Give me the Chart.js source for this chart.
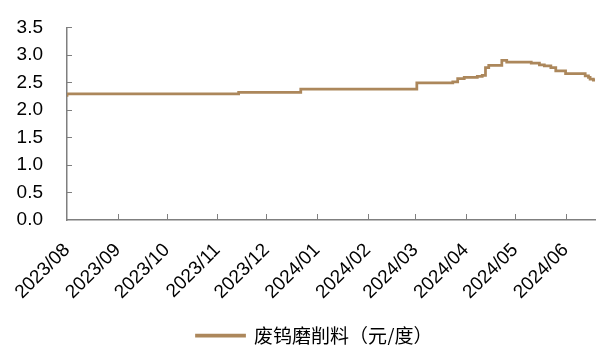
<!DOCTYPE html>
<html>
<head>
<meta charset="utf-8">
<script src="https://cdn.jsdelivr.net/npm/chart.js@4"></script>
<style>
  html, body { margin: 0; padding: 0; background: #fff; }
  #wrap { width: 599px; height: 345px; }
</style>
</head>
<body>
<div id="wrap"><canvas id="priceChart" width="599" height="345"></canvas></div>
<script>
// 价格变动点（日期 / 价格）
const changeDates = [
  '2023-08-01', '2023-11-14', '2023-12-22', '2024-03-02', '2024-03-24',
  '2024-03-27', '2024-03-31', '2024-04-08', '2024-04-11', '2024-04-13',
  '2024-04-15', '2024-04-23', '2024-04-26', '2024-05-11', '2024-05-16',
  '2024-05-19', '2024-05-23', '2024-05-26', '2024-06-01', '2024-06-13',
  '2024-06-15', '2024-06-16', '2024-06-18', '2024-06-19'
];
const priceValues = [
  2.24, 2.29, 2.32, 2.38, 2.49,
  2.51, 2.57, 2.59, 2.61, 2.63,
  2.77, 2.81, 2.90, 2.87, 2.85,
  2.82, 2.80, 2.77, 2.71, 2.66,
  2.62, 2.59, 2.56, 2.54
];
// 横轴月份刻度
const monthStarts = [
  '2023-08-01', '2023-09-01', '2023-10-01', '2023-11-01', '2023-12-01', '2024-01-01',
  '2024-02-01', '2024-03-01', '2024-04-01', '2024-05-01', '2024-06-01'
];
const monthLabels = [
  '2023/08', '2023/09', '2023/10', '2023/11', '2023/12', '2024/01',
  '2024/02', '2024/03', '2024/04', '2024/05', '2024/06'
];
const yTicks = [0, 0.5, 1.0, 1.5, 2.0, 2.5, 3.0, 3.5];
const seriesName = '废钨磨削料（元/度）';

const startDate = changeDates[0];
const endDate = '2024-06-19';

function dayIndex(s) {
  const p = s.split('-').map(Number);
  const b = startDate.split('-').map(Number);
  return Math.round((Date.UTC(p[0], p[1] - 1, p[2]) - Date.UTC(b[0], b[1] - 1, b[2])) / 86400000);
}

const points = changeDates.map((d, i) => ({ x: dayIndex(d), y: priceValues[i] }));
const tickDays = monthStarts.map(dayIndex);

const lineColor = '#AC875B';
const axisColor = '#7f7f7f';

// 刻度线朝内
const innerTicks = {
  id: 'innerTicks',
  afterDatasetsDraw(chart) {
    const { ctx, chartArea, scales } = chart;
    ctx.save();
    ctx.strokeStyle = axisColor;
    ctx.lineWidth = 1;
    tickDays.forEach(d => {
      if (d === 0) return;
      const x = Math.round(scales.x.getPixelForValue(d)) + 0.5;
      ctx.beginPath();
      ctx.moveTo(x, chartArea.bottom);
      ctx.lineTo(x, chartArea.bottom - 6);
      ctx.stroke();
    });
    yTicks.forEach(v => {
      if (v === 0) return;
      const y = Math.round(scales.y.getPixelForValue(v)) + 0.5;
      ctx.beginPath();
      ctx.moveTo(chartArea.left, y);
      ctx.lineTo(chartArea.left + 5, y);
      ctx.stroke();
    });
    ctx.restore();
  }
};

// 图例位置微调
const legendShift = {
  id: 'legendShift',
  afterLayout(chart) {
    const lg = chart.legend;
    if (!lg) return;
    lg.left += 17; lg.right += 17;
    lg.top += 10; lg.bottom += 10;
  }
};

new Chart(document.getElementById('priceChart').getContext('2d'), {
  type: 'line',
  data: {
    datasets: [{
      label: seriesName,
      data: points,
      borderColor: lineColor,
      backgroundColor: lineColor,
      borderWidth: 2.75,
      pointRadius: 0,
      stepped: 'after',
      fill: false
    }]
  },
  options: {
    responsive: false,
    animation: false,
    layout: { padding: { left: 0, right: 4, top: 14, bottom: 0 } },
    plugins: {
      tooltip: { enabled: false },
      legend: {
        position: 'bottom',
        labels: {
          boxWidth: 48,
          boxHeight: 1,
          padding: 2,
          color: '#000',
          font: { family: '"Noto Sans CJK SC", sans-serif', size: 19 }
        }
      }
    },
    scales: {
      x: {
        type: 'linear',
        min: 0,
        max: dayIndex(endDate),
        grid: { display: false },
        border: { color: axisColor, width: 1.5 },
        afterBuildTicks: scale => { scale.ticks = tickDays.map(v => ({ value: v })); },
        afterFit: scale => { scale.height = 94; },
        ticks: {
          autoSkip: false,
          minRotation: 45,
          maxRotation: 45,
          padding: 11,
          color: '#000',
          font: { family: '"Liberation Sans", Arial, sans-serif', size: 19 },
          callback: v => monthLabels[tickDays.indexOf(v)]
        }
      },
      y: {
        min: 0,
        max: 3.5,
        grid: { display: false },
        border: { color: axisColor, width: 1.5 },
        afterBuildTicks: scale => { scale.ticks = yTicks.map(v => ({ value: v })); },
        afterFit: scale => { scale.width = 67; },
        ticks: {
          padding: 16,
          color: '#000',
          font: { family: '"Liberation Sans", Arial, sans-serif', size: 19 },
          callback: v => Number(v).toFixed(1)
        }
      }
    }
  },
  plugins: [innerTicks, legendShift]
});
</script>
</body>
</html>
